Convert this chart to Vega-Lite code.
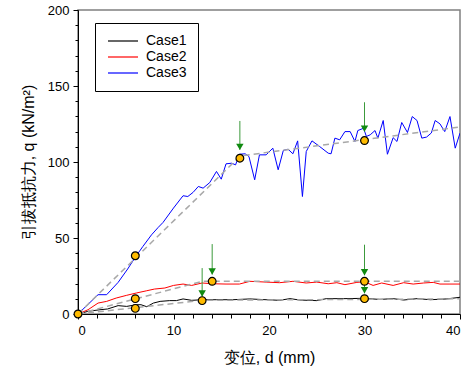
{
  "$schema": "https://vega.github.io/schema/vega-lite/v6.json",
  "width": 382,
  "height": 304,
  "autosize": "none",
  "padding": {"left": 78, "top": 10, "right": 10, "bottom": 62},
  "background": "white",
  "config": {
    "view": {"stroke": "#808080", "strokeWidth": 1.5},
    "font": "Liberation Sans",
    "axis": {
      "grid": false,
      "domainColor": "black",
      "domainWidth": 1,
      "tickColor": "black",
      "labelFont": "Liberation Sans",
      "labelFontSize": 13,
      "labelColor": "black",
      "labelOverlap": false,
      "titleFont": "Liberation Sans",
      "titleColor": "black",
      "titleFontWeight": "normal"
    },
    "axisX": {"titleFontSize": 16, "titlePadding": 12, "labelPadding": 5},
    "axisY": {"titleFontSize": 16, "titlePadding": 11, "labelPadding": 4}
  },
  "datasets": {
    "curves": [
      {"case": "Case1", "d": 0, "q": 0},
      {"case": "Case1", "d": 1.05, "q": 1.75},
      {"case": "Case1", "d": 2.3, "q": 2.8},
      {"case": "Case1", "d": 3.1, "q": 3.3},
      {"case": "Case1", "d": 4.2, "q": 5.5},
      {"case": "Case1", "d": 5.1, "q": 5.0},
      {"case": "Case1", "d": 6.1, "q": 6.1},
      {"case": "Case1", "d": 6.6, "q": 6.1},
      {"case": "Case1", "d": 7.2, "q": 4.8},
      {"case": "Case1", "d": 7.9, "q": 7.2},
      {"case": "Case1", "d": 8.6, "q": 8.3},
      {"case": "Case1", "d": 9.6, "q": 8.8},
      {"case": "Case1", "d": 10.3, "q": 8.8},
      {"case": "Case1", "d": 11.0, "q": 9.9},
      {"case": "Case1", "d": 11.9, "q": 9.0},
      {"case": "Case1", "d": 13.1, "q": 9.4},
      {"case": "Case1", "d": 14.5, "q": 9.4},
      {"case": "Case1", "d": 16.2, "q": 9.4},
      {"case": "Case1", "d": 18.0, "q": 9.9},
      {"case": "Case1", "d": 19.7, "q": 9.4},
      {"case": "Case1", "d": 21.1, "q": 9.0},
      {"case": "Case1", "d": 22.2, "q": 10.1},
      {"case": "Case1", "d": 23.2, "q": 9.2},
      {"case": "Case1", "d": 25.0, "q": 8.8},
      {"case": "Case1", "d": 26.0, "q": 10.1},
      {"case": "Case1", "d": 27.8, "q": 10.1},
      {"case": "Case1", "d": 29.9, "q": 10.3},
      {"case": "Case1", "d": 31.6, "q": 9.6},
      {"case": "Case1", "d": 33.0, "q": 10.1},
      {"case": "Case1", "d": 34.1, "q": 9.2},
      {"case": "Case1", "d": 35.5, "q": 10.1},
      {"case": "Case1", "d": 36.9, "q": 9.4},
      {"case": "Case1", "d": 38.6, "q": 9.9},
      {"case": "Case1", "d": 40.0, "q": 11.0},
      {"case": "Case2", "d": 0, "q": 0},
      {"case": "Case2", "d": 1.05, "q": 2.8},
      {"case": "Case2", "d": 2.1, "q": 7.2},
      {"case": "Case2", "d": 3.0, "q": 8.3},
      {"case": "Case2", "d": 4.0, "q": 10.5},
      {"case": "Case2", "d": 5.1, "q": 12.3},
      {"case": "Case2", "d": 6.1, "q": 13.8},
      {"case": "Case2", "d": 7.2, "q": 15.3},
      {"case": "Case2", "d": 8.0, "q": 16.4},
      {"case": "Case2", "d": 9.1, "q": 17.1},
      {"case": "Case2", "d": 10.0, "q": 18.8},
      {"case": "Case2", "d": 11.0, "q": 19.7},
      {"case": "Case2", "d": 11.9, "q": 18.8},
      {"case": "Case2", "d": 13.0, "q": 20.4},
      {"case": "Case2", "d": 14.1, "q": 19.9},
      {"case": "Case2", "d": 15.5, "q": 19.7},
      {"case": "Case2", "d": 16.9, "q": 19.7},
      {"case": "Case2", "d": 18.0, "q": 21.5},
      {"case": "Case2", "d": 19.7, "q": 21.0},
      {"case": "Case2", "d": 21.1, "q": 20.6},
      {"case": "Case2", "d": 22.5, "q": 21.5},
      {"case": "Case2", "d": 23.9, "q": 20.4},
      {"case": "Case2", "d": 25.0, "q": 21.0},
      {"case": "Case2", "d": 26.2, "q": 19.9},
      {"case": "Case2", "d": 27.1, "q": 20.6},
      {"case": "Case2", "d": 27.95, "q": 19.3},
      {"case": "Case2", "d": 29.2, "q": 20.8},
      {"case": "Case2", "d": 30.0, "q": 21.2},
      {"case": "Case2", "d": 30.9, "q": 18.8},
      {"case": "Case2", "d": 31.8, "q": 20.4},
      {"case": "Case2", "d": 33.0, "q": 18.8},
      {"case": "Case2", "d": 34.1, "q": 20.6},
      {"case": "Case2", "d": 35.1, "q": 19.7},
      {"case": "Case2", "d": 36.2, "q": 20.4},
      {"case": "Case2", "d": 37.2, "q": 20.8},
      {"case": "Case2", "d": 37.9, "q": 19.7},
      {"case": "Case2", "d": 38.95, "q": 19.7},
      {"case": "Case2", "d": 40.0, "q": 19.7},
      {"case": "Case3", "d": 0, "q": 0},
      {"case": "Case3", "d": 2.1, "q": 12.7},
      {"case": "Case3", "d": 3.0, "q": 12.7},
      {"case": "Case3", "d": 4.2, "q": 20.8},
      {"case": "Case3", "d": 5.2, "q": 29.6},
      {"case": "Case3", "d": 6.1, "q": 38.3},
      {"case": "Case3", "d": 6.8, "q": 44.5},
      {"case": "Case3", "d": 7.7, "q": 52.1},
      {"case": "Case3", "d": 8.4, "q": 57.0},
      {"case": "Case3", "d": 8.9, "q": 60.2},
      {"case": "Case3", "d": 10.0, "q": 69.7},
      {"case": "Case3", "d": 11.0, "q": 77.8},
      {"case": "Case3", "d": 11.5, "q": 77.3},
      {"case": "Case3", "d": 12.05, "q": 80.0},
      {"case": "Case3", "d": 12.6, "q": 83.9},
      {"case": "Case3", "d": 13.1, "q": 82.8},
      {"case": "Case3", "d": 13.8, "q": 86.5},
      {"case": "Case3", "d": 14.5, "q": 93.8},
      {"case": "Case3", "d": 15.0, "q": 88.7},
      {"case": "Case3", "d": 15.5, "q": 98.8},
      {"case": "Case3", "d": 16.1, "q": 99.2},
      {"case": "Case3", "d": 16.5, "q": 98.1},
      {"case": "Case3", "d": 16.9, "q": 105.1},
      {"case": "Case3", "d": 17.5, "q": 105.4},
      {"case": "Case3", "d": 17.9, "q": 103.6},
      {"case": "Case3", "d": 18.5, "q": 88.3},
      {"case": "Case3", "d": 19.0, "q": 104.7},
      {"case": "Case3", "d": 19.7, "q": 104.7},
      {"case": "Case3", "d": 20.4, "q": 109.1},
      {"case": "Case3", "d": 20.96, "q": 94.9},
      {"case": "Case3", "d": 21.5, "q": 107.6},
      {"case": "Case3", "d": 22.0, "q": 108.4},
      {"case": "Case3", "d": 22.5, "q": 105.4},
      {"case": "Case3", "d": 23.0, "q": 113.9},
      {"case": "Case3", "d": 23.5, "q": 77.3},
      {"case": "Case3", "d": 23.9, "q": 106.9},
      {"case": "Case3", "d": 24.5, "q": 113.9},
      {"case": "Case3", "d": 25.3, "q": 110.2},
      {"case": "Case3", "d": 26.2, "q": 105.8},
      {"case": "Case3", "d": 26.5, "q": 105.4},
      {"case": "Case3", "d": 26.9, "q": 115.7},
      {"case": "Case3", "d": 27.4, "q": 114.6},
      {"case": "Case3", "d": 27.95, "q": 120.0},
      {"case": "Case3", "d": 28.5, "q": 120.0},
      {"case": "Case3", "d": 29.0, "q": 113.5},
      {"case": "Case3", "d": 29.3, "q": 120.7},
      {"case": "Case3", "d": 29.9, "q": 122.2},
      {"case": "Case3", "d": 30.2, "q": 116.8},
      {"case": "Case3", "d": 30.6, "q": 117.9},
      {"case": "Case3", "d": 31.1, "q": 120.7},
      {"case": "Case3", "d": 31.4, "q": 115.7},
      {"case": "Case3", "d": 31.96, "q": 127.3},
      {"case": "Case3", "d": 32.4, "q": 105.1},
      {"case": "Case3", "d": 33.0, "q": 116.0},
      {"case": "Case3", "d": 33.4, "q": 113.5},
      {"case": "Case3", "d": 33.9, "q": 126.0},
      {"case": "Case3", "d": 34.5, "q": 119.4},
      {"case": "Case3", "d": 35.0, "q": 129.9},
      {"case": "Case3", "d": 35.5, "q": 127.3},
      {"case": "Case3", "d": 36.0, "q": 115.7},
      {"case": "Case3", "d": 36.5, "q": 116.4},
      {"case": "Case3", "d": 37.0, "q": 119.1},
      {"case": "Case3", "d": 37.4, "q": 127.3},
      {"case": "Case3", "d": 37.9, "q": 125.1},
      {"case": "Case3", "d": 38.4, "q": 120.0},
      {"case": "Case3", "d": 38.95, "q": 129.9},
      {"case": "Case3", "d": 39.5, "q": 109.1},
      {"case": "Case3", "d": 40.0, "q": 119.0}
    ],
    "fits": [
      {"fit": "Case1", "d": 0, "q": 0},
      {"fit": "Case1", "d": 13, "q": 9},
      {"fit": "Case1", "d": 40, "q": 10},
      {"fit": "Case2", "d": 0, "q": 0},
      {"fit": "Case2", "d": 13, "q": 21.5},
      {"fit": "Case2", "d": 40, "q": 21.5},
      {"fit": "Case3", "d": 0, "q": 0},
      {"fit": "Case3", "d": 17, "q": 104},
      {"fit": "Case3", "d": 40, "q": 123}
    ],
    "pts": [
      {"d": 0, "q": 0},
      {"d": 6, "q": 38.3},
      {"d": 16.95, "q": 102.5},
      {"d": 30, "q": 114.1},
      {"d": 6, "q": 10.1},
      {"d": 14.05, "q": 21.5},
      {"d": 30, "q": 21.5},
      {"d": 6, "q": 3.7},
      {"d": 13, "q": 8.8},
      {"d": 30, "q": 10.1}
    ],
    "arrows": [
      {"d": 16.95, "qtop": 127, "q": 108},
      {"d": 30, "qtop": 139.3, "q": 120},
      {"d": 14.05, "qtop": 46, "q": 26},
      {"d": 13, "qtop": 30.2, "q": 11.5},
      {"d": 30, "qtop": 45.6, "q": 25.5},
      {"d": 30, "qtop": 21.5, "q": 13.6}
    ]
  },
  "encoding": {
    "x": {
      "field": "d", "type": "quantitative",
      "scale": {"domain": [0, 40], "nice": false, "zero": false},
      "axis": {
        "title": "变位, d (mm)",
        "values": [0, 2, 4, 6, 8, 10, 12, 14, 16, 18, 20, 22, 24, 26, 28, 30, 32, 34, 36, 38, 40],
        "labelExpr": "datum.value % 10 === 0 ? datum.label : ''",
        "tickSize": {"condition": {"test": "datum.value % 10 === 0", "value": 5}, "value": 4}
      }
    },
    "y": {
      "field": "q", "type": "quantitative",
      "scale": {"domain": [0, 200], "nice": false},
      "axis": {
        "title": "引拔抵抗力, q (kN/m²)",
        "values": [0, 10, 20, 30, 40, 50, 60, 70, 80, 90, 100, 110, 120, 130, 140, 150, 160, 170, 180, 190, 200],
        "labelExpr": "datum.value % 50 === 0 ? datum.label : ''",
        "tickSize": {"condition": {"test": "datum.value % 50 === 0", "value": 5}, "value": 3}
      }
    }
  },
  "layer": [
    {
      "data": {"name": "curves"},
      "mark": {"type": "line", "strokeWidth": 1, "clip": true},
      "encoding": {
        "color": {
          "field": "case", "type": "nominal",
          "scale": {"domain": ["Case1", "Case2", "Case3"], "range": ["#000000", "#ff0000", "#0000ff"]},
          "legend": {
            "title": null,
            "orient": "none",
            "legendX": 17,
            "legendY": 13,
            "symbolType": "M-1,0H5",
            "symbolSize": 100,
            "symbolStrokeWidth": 1.2,
            "labelFontSize": 14,
            "labelFont": "Liberation Sans",
            "labelColor": "black",
            "labelOffset": 26,
            "rowPadding": 2,
            "padding": 11,
            "strokeColor": "black",
            "fillColor": "white"
          }
        }
      }
    },
    {
      "data": {"name": "fits"},
      "mark": {"type": "line", "color": "#a8a8a8", "strokeWidth": 1.5, "strokeDash": [6, 4]},
      "encoding": {
        "detail": {"field": "fit"}
      }
    },
    {
      "data": {"name": "arrows"},
      "mark": {"type": "rule", "color": "#3c9a3c", "strokeWidth": 1},
      "encoding": {
        "y2": {"field": "qtop"}
      }
    },
    {
      "data": {"name": "arrows"},
      "mark": {"type": "point", "shape": "triangle-down", "filled": true, "color": "#108a10", "size": 55, "opacity": 1, "yOffset": -3},
      "encoding": {}
    },
    {
      "data": {"name": "pts"},
      "mark": {"type": "point", "shape": "circle", "filled": true, "fill": "#ffbb00", "stroke": "black", "strokeWidth": 1.2, "size": 60, "opacity": 1},
      "encoding": {}
    }
  ]
}
